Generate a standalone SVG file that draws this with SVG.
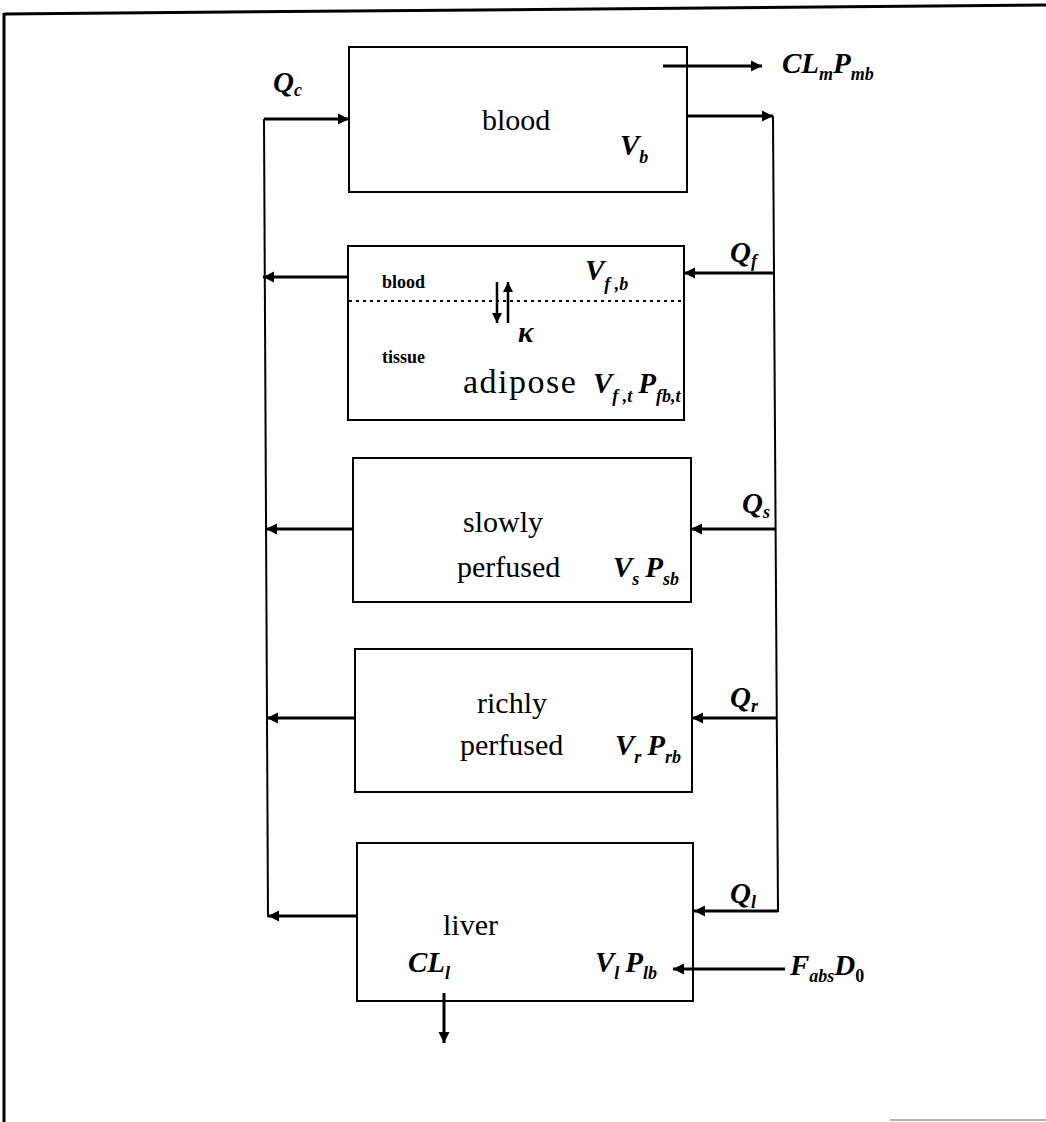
<svg xmlns="http://www.w3.org/2000/svg" width="1046" height="1122" viewBox="0 0 1046 1122">
<style>
.box{fill:none;stroke:#000;stroke-width:2}
.ln{fill:none;stroke:#000;stroke-width:2}
.ar{fill:none;stroke:#000;stroke-width:3;marker-end:url(#ah)}
.ka{fill:none;stroke:#000;stroke-width:2.5;marker-end:url(#ahs)}
.r{font-family:"Liberation Serif",serif;font-size:30px;fill:#000}
.big{font-size:34px;letter-spacing:1.5px}
.sm{font-family:"Liberation Serif",serif;font-size:18px;font-weight:bold;fill:#000}
.m{font-family:"Liberation Serif",serif;font-size:29px;font-style:italic;font-weight:bold;fill:#000}
.s{font-size:18px}
.up{font-style:normal}
</style>
<defs>
<marker id="ah" markerUnits="userSpaceOnUse" markerWidth="12" markerHeight="12" refX="11" refY="6" orient="auto">
<path d="M0,0.5 L11,6 L0,11.5 z" fill="#000"/>
</marker>
<marker id="ahs" markerUnits="userSpaceOnUse" markerWidth="11" markerHeight="11" refX="10" refY="5" orient="auto">
<path d="M0,0 L10,5 L0,10 z" fill="#000"/>
</marker>
</defs>
<rect width="1046" height="1122" fill="#fff"/>
<g id="frame">
<line x1="4" y1="14" x2="1046" y2="5" stroke="#000" stroke-width="3"/>
<line x1="4" y1="13" x2="4" y2="1122" stroke="#000" stroke-width="3"/>
<line x1="890" y1="1120" x2="1046" y2="1120" stroke="#999" stroke-width="1.5"/>
</g>
<g id="blood">
<rect class="box" x="349" y="47" width="338" height="145"/>
<text class="r" x="482" y="130">blood</text>
<text class="m" x="620" y="155">V<tspan class="s" dy="8">b</tspan></text>
</g>
<g id="adipose">
<rect class="box" x="348" y="246" width="336" height="174"/>
<line x1="349" y1="301" x2="683" y2="301" stroke="#000" stroke-width="2" stroke-dasharray="3,4"/>
<text class="sm" x="382" y="288">blood</text>
<text class="m" x="585" y="280">V<tspan class="s" dy="10">f ,b</tspan></text>
<line class="ka" x1="497" y1="282" x2="497" y2="323"/>
<line class="ka" x1="508" y1="323" x2="508" y2="282"/>
<text class="m" x="518" y="342">κ</text>
<text class="sm" x="382" y="363">tissue</text>
<text class="r big" x="463" y="393">adipose</text>
<text class="m" x="593" y="393">V<tspan class="s" dy="9">f ,t</tspan><tspan dx="6" dy="-9">P</tspan><tspan class="s" dy="9">fb,t</tspan></text>
</g>
<g id="slowly">
<rect class="box" x="353" y="458" width="338" height="144"/>
<text class="r" x="463" y="532">slowly</text>
<text class="r" x="457" y="577">perfused</text>
<text class="m" x="613" y="577">V<tspan class="s" dy="8">s</tspan><tspan dx="6" dy="-8">P</tspan><tspan class="s" dy="8">sb</tspan></text>
</g>
<g id="richly">
<rect class="box" x="355" y="649" width="337" height="143"/>
<text class="r" x="477" y="713">richly</text>
<text class="r" x="460" y="755">perfused</text>
<text class="m" x="615" y="755">V<tspan class="s" dy="8">r</tspan><tspan dx="6" dy="-8">P</tspan><tspan class="s" dy="8">rb</tspan></text>
</g>
<g id="liver">
<rect class="box" x="357" y="843" width="336" height="158"/>
<text class="r" x="443" y="935">liver</text>
<text class="m" x="408" y="972">CL<tspan class="s" dy="7">l</tspan></text>
<text class="m" x="595" y="972">V<tspan class="s" dy="7">l</tspan><tspan dx="6" dy="-7">P</tspan><tspan class="s" dy="7">lb</tspan></text>
</g>
<g id="connectors">
<line class="ln" x1="264" y1="119" x2="268" y2="917"/>
<line class="ln" x1="773" y1="116" x2="778" y2="912"/>
<line class="ar" x1="264" y1="119" x2="349" y2="119"/>
<line class="ar" x1="687" y1="116" x2="773" y2="116"/>
<line class="ar" x1="663" y1="66" x2="762" y2="66"/>
<line class="ar" x1="348" y1="277" x2="263" y2="277"/>
<line class="ar" x1="774" y1="273" x2="684" y2="273"/>
<line class="ar" x1="353" y1="529" x2="266" y2="529"/>
<line class="ar" x1="776" y1="529" x2="691" y2="529"/>
<line class="ar" x1="355" y1="718" x2="267" y2="718"/>
<line class="ar" x1="777" y1="718" x2="692" y2="718"/>
<line class="ar" x1="357" y1="916" x2="268" y2="916"/>
<line class="ar" x1="778" y1="911" x2="694" y2="911"/>
<line class="ar" x1="785" y1="969" x2="673" y2="969"/>
<line class="ar" x1="444" y1="993" x2="444" y2="1043"/>
<text class="m" x="273" y="92">Q<tspan class="s" dy="4">c</tspan></text>
<text class="m" x="782" y="73">CL<tspan class="s" dy="7">m</tspan><tspan dy="-7">P</tspan><tspan class="s" dy="7">mb</tspan></text>
<text class="m" x="730" y="262">Q<tspan class="s" dy="5">f</tspan></text>
<text class="m" x="742" y="513">Q<tspan class="s" dy="5">s</tspan></text>
<text class="m" x="730" y="707">Q<tspan class="s" dy="5">r</tspan></text>
<text class="m" x="730" y="903">Q<tspan class="s" dy="5">l</tspan></text>
<text class="m" x="790" y="975">F<tspan class="s" dy="7">abs</tspan><tspan dy="-7">D</tspan><tspan class="s up" dy="7">0</tspan></text>
</g>
</svg>
